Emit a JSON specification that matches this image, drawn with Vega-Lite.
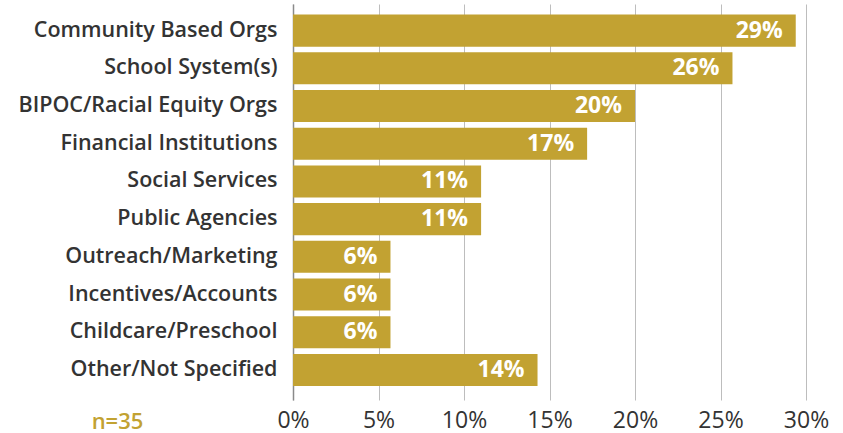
{
  "$schema": "https://vega.github.io/schema/vega-lite/v6.json",
  "width": 513,
  "height": 396,
  "autosize": {"type": "none"},
  "padding": {"left": 293, "top": 4, "right": 37, "bottom": 33},
  "background": "white",
  "config": {"view": {"stroke": null}, "font": "Open Sans"},
  "data": {
    "values": [
      {"category": "Community Based Orgs", "share": 0.294},
      {"category": "School System(s)", "share": 0.257},
      {"category": "BIPOC/Racial Equity Orgs", "share": 0.2},
      {"category": "Financial Institutions", "share": 0.172},
      {"category": "Social Services", "share": 0.11},
      {"category": "Public Agencies", "share": 0.11},
      {"category": "Outreach/Marketing", "share": 0.057},
      {"category": "Incentives/Accounts", "share": 0.057},
      {"category": "Childcare/Preschool", "share": 0.057},
      {"category": "Other/Not Specified", "share": 0.143}
    ]
  },
  "encoding": {
    "y": {
      "field": "category",
      "type": "nominal",
      "sort": null,
      "scale": {"paddingInner": 0.15, "paddingOuter": 0.327, "align": 0.43},
      "axis": {
        "title": null,
        "domain": true,
        "domainColor": "#8a8a8a",
        "domainWidth": 1.5,
        "ticks": false,
        "labelPadding": 16,
        "labelFontSize": 21.5,
        "labelFontWeight": 600,
        "labelColor": "#333333",
        "labelLimit": 300
      }
    },
    "x": {
      "field": "share",
      "type": "quantitative",
      "scale": {"domain": [0, 0.3], "nice": false},
      "axis": {
        "format": ".0%",
        "values": [0, 0.05, 0.1, 0.15, 0.2, 0.25, 0.3],
        "domain": false,
        "ticks": false,
        "grid": true,
        "gridColor": "#bdbdbd",
        "gridWidth": 1,
        "labelFlush": false,
        "labelOverlap": false,
        "labelPadding": 9,
        "labelFontSize": 23,
        "labelColor": "#333333",
        "title": "n=35",
        "titleColor": "#C2A232",
        "titleFontSize": 22,
        "titleFontWeight": 600,
        "titleX": -176,
        "titleY": 21,
        "titleAlign": "center",
        "titleBaseline": "middle"
      }
    }
  },
  "layer": [
    {"mark": {"type": "bar", "color": "#C2A232"}},
    {
      "mark": {"type": "text", "align": "right", "baseline": "middle", "dx": -13, "color": "white", "fontSize": 23, "fontWeight": "bold"},
      "encoding": {"text": {"field": "share", "type": "quantitative", "format": ".0%"}}
    }
  ]
}
